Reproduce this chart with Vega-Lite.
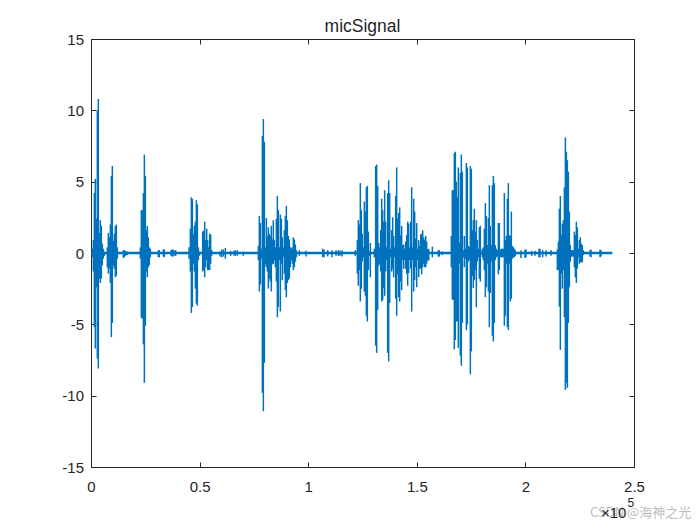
{
  "$schema": "https://vega.github.io/schema/vega-lite/v6.json",
  "description": "micSignal waveform, drawn as min/max columns over a quiet baseline.",
  "width": 543,
  "height": 428,
  "autosize": "none",
  "padding": {"left": 91, "top": 39, "right": 66, "bottom": 58},
  "background": "#ffffff",
  "title": {"text": "micSignal", "font": "Liberation Sans", "fontSize": 17.5, "fontWeight": "normal", "color": "#262626", "offset": -3, "anchor": "middle"},
  "datasets": {
    "baseline": [{"x": 0, "y": 0}, {"x": 240000, "y": 0}],
    "notes": [
      {"x": 229742, "y": -18.2, "label": "CSDN @海神之光", "kind": "mark"},
      {"x": 246500, "y": -18.2, "label": "×10", "kind": "exp"},
      {"x": 247000, "y": -17.5, "label": "5", "kind": "pow"}
    ],
    "columns": [
      {"x":614,"lo":-0.3,"hi":0.3},{"x":1075,"lo":-1.3,"hi":0.9},{"x":1535,"lo":-5.2,"hi":4.2},{"x":1996,"lo":-6.7,"hi":5.2},{"x":2456,"lo":-2.4,"hi":2.4},{"x":2917,"lo":-7.4,"hi":10.0},{"x":3377,"lo":-8.1,"hi":10.8},{"x":3838,"lo":-1.8,"hi":1.4},{"x":4298,"lo":-2.1,"hi":2.3},{"x":4759,"lo":-1.8,"hi":1.9},{"x":5219,"lo":-0.85,"hi":0.65},{"x":5680,"lo":-0.4,"hi":0.3},{"x":6140,"lo":-0.2,"hi":0.1},
      {"x":7522,"lo":-1.0,"hi":0.4},{"x":7982,"lo":-1.45,"hi":1.4},{"x":8443,"lo":-1.1,"hi":1.1},{"x":8903,"lo":-2.1,"hi":2.0},{"x":9364,"lo":-5.9,"hi":5.4},{"x":9824,"lo":-4.9,"hi":6.1},{"x":10285,"lo":-0.9,"hi":0.85},{"x":10745,"lo":-1.1,"hi":1.35},{"x":11206,"lo":-1.7,"hi":1.9},{"x":11666,"lo":-1.6,"hi":2.0},{"x":12127,"lo":-0.4,"hi":0.4},
      {"x":14890,"lo":-0.35,"hi":0.2},{"x":15350,"lo":-0.3,"hi":0.2},{"x":15811,"lo":-0.2,"hi":0.15},{"x":16271,"lo":-0.15,"hi":0.1},{"x":16732,"lo":-0.15,"hi":0.1},
      {"x":22718,"lo":-0.4,"hi":0.4},{"x":23178,"lo":-4.55,"hi":3.0},{"x":23639,"lo":-4.6,"hi":3.0},{"x":24100,"lo":-6.4,"hi":4.2},{"x":24560,"lo":-9.1,"hi":6.9},{"x":25021,"lo":-5.1,"hi":5.4},{"x":25481,"lo":-1.3,"hi":1.6},{"x":25942,"lo":-1.7,"hi":1.9},{"x":26402,"lo":-1.0,"hi":1.1},{"x":26863,"lo":-0.85,"hi":0.4},{"x":27320,"lo":-0.3,"hi":0.3},
      {"x":31007,"lo":-0.3,"hi":0.2},{"x":31467,"lo":-0.3,"hi":0.2},{"x":33310,"lo":-0.25,"hi":0.25},{"x":33770,"lo":-0.3,"hi":0.25},{"x":36840,"lo":-0.2,"hi":0.2},{"x":37300,"lo":-0.25,"hi":0.25},{"x":37760,"lo":-0.25,"hi":0.25},{"x":38220,"lo":-0.2,"hi":0.2},{"x":38990,"lo":-0.2,"hi":0.2},
      {"x":45130,"lo":-0.4,"hi":0.4},{"x":45740,"lo":-1.3,"hi":1.7},{"x":46200,"lo":-4.2,"hi":3.9},{"x":46660,"lo":-3.8,"hi":3.8},{"x":47130,"lo":-0.75,"hi":1.3},{"x":47590,"lo":-1.3,"hi":1.9},{"x":48050,"lo":-2.5,"hi":2.2},{"x":48510,"lo":-3.55,"hi":3.7},{"x":48970,"lo":-3.7,"hi":3.4},{"x":49430,"lo":-0.5,"hi":0.4},{"x":49890,"lo":-0.2,"hi":0.1},
      {"x":51420,"lo":-1.3,"hi":1.5},{"x":51880,"lo":-1.2,"hi":1.55},{"x":52340,"lo":-1.7,"hi":2.2},{"x":52800,"lo":-1.0,"hi":0.9},{"x":53260,"lo":-0.5,"hi":1.7},{"x":53720,"lo":-1.2,"hi":0.9},{"x":54180,"lo":-1.2,"hi":0.4},{"x":54640,"lo":-1.2,"hi":1.35},{"x":55100,"lo":-0.75,"hi":1.3},{"x":55570,"lo":-0.2,"hi":0.2},
      {"x":59390,"lo":-0.25,"hi":0.1},{"x":60160,"lo":-0.3,"hi":0.25},{"x":60930,"lo":-0.25,"hi":0.25},{"x":61850,"lo":-0.4,"hi":0.35},{"x":64300,"lo":-0.2,"hi":0.15},{"x":65840,"lo":-0.2,"hi":0.15},{"x":66450,"lo":-0.2,"hi":0.2},{"x":67370,"lo":-0.2,"hi":0.2},{"x":70140,"lo":-0.2,"hi":0.1},
      {"x":77050,"lo":-0.5,"hi":0.5},{"x":77510,"lo":-2.7,"hi":2.6},{"x":77970,"lo":-2.2,"hi":2.1},{"x":78430,"lo":-0.4,"hi":0.3},{"x":78890,"lo":-9.8,"hi":8.2},{"x":79350,"lo":-11.1,"hi":9.4},{"x":79810,"lo":-7.7,"hi":7.8},{"x":80270,"lo":-0.8,"hi":0.4},{"x":80730,"lo":-1.0,"hi":2.45},{"x":81190,"lo":-1.3,"hi":1.2},{"x":81650,"lo":-2.5,"hi":1.8},{"x":82110,"lo":-1.8,"hi":1.35},{"x":82570,"lo":-2.0,"hi":1.2},{"x":83030,"lo":-2.7,"hi":1.9},{"x":83490,"lo":-0.8,"hi":0.95},{"x":83950,"lo":-0.75,"hi":2.3},{"x":84420,"lo":-0.5,"hi":0.9},{"x":84880,"lo":-1.0,"hi":0.4},{"x":85340,"lo":-2.0,"hi":2.4},{"x":85800,"lo":-4.5,"hi":4.0},{"x":86260,"lo":-3.8,"hi":3.0},{"x":86720,"lo":-0.5,"hi":0.4},{"x":87180,"lo":-4.1,"hi":2.7},{"x":87640,"lo":-0.75,"hi":2.4},{"x":88100,"lo":-1.9,"hi":1.1},{"x":88560,"lo":-0.3,"hi":0.4},{"x":89020,"lo":-1.45,"hi":1.6},{"x":89480,"lo":-2.6,"hi":2.6},{"x":89940,"lo":-3.1,"hi":3.3},{"x":90400,"lo":-2.1,"hi":2.3},{"x":90860,"lo":-1.9,"hi":1.2},{"x":91320,"lo":-1.8,"hi":0.95},{"x":91780,"lo":-1.0,"hi":0.4},{"x":92240,"lo":-0.5,"hi":0.3},{"x":92700,"lo":-0.75,"hi":0.4},{"x":93160,"lo":-1.2,"hi":1.1},{"x":93630,"lo":-1.0,"hi":0.95},{"x":94090,"lo":-0.6,"hi":0.6},{"x":94550,"lo":-0.3,"hi":0.2},
      {"x":95920,"lo":-0.2,"hi":0.2},{"x":98990,"lo":-0.25,"hi":0.15},{"x":106670,"lo":-0.3,"hi":0.3},{"x":107290,"lo":-0.3,"hi":0.25},{"x":108970,"lo":-0.25,"hi":0.2},{"x":110970,"lo":-0.3,"hi":0.2},{"x":112810,"lo":-0.2,"hi":0.2},{"x":113890,"lo":-0.2,"hi":0.2},{"x":114640,"lo":-0.2,"hi":0.15},{"x":115560,"lo":-0.25,"hi":0.2},{"x":121700,"lo":-0.2,"hi":0.2},
      {"x":122620,"lo":-1.45,"hi":0.9},{"x":123080,"lo":-2.3,"hi":2.3},{"x":123540,"lo":-1.2,"hi":2.0},{"x":124000,"lo":-3.4,"hi":4.9},{"x":124460,"lo":-2.5,"hi":3.0},{"x":124920,"lo":-0.6,"hi":1.35},{"x":125390,"lo":-0.3,"hi":0.4},{"x":125850,"lo":-2.7,"hi":3.6},{"x":126310,"lo":-3.0,"hi":2.9},{"x":126770,"lo":-4.4,"hi":4.6},{"x":127230,"lo":-4.8,"hi":4.7},{"x":127690,"lo":-1.2,"hi":1.5},{"x":128150,"lo":-0.2,"hi":0.1},{"x":128610,"lo":-1.7,"hi":0.7},
      {"x":130450,"lo":-0.3,"hi":0.3},{"x":131060,"lo":-6.5,"hi":6.1},{"x":131530,"lo":-7.0,"hi":6.2},{"x":131990,"lo":-4.0,"hi":4.7},{"x":132450,"lo":-0.9,"hi":0.7},{"x":132910,"lo":-0.75,"hi":0.4},{"x":133370,"lo":-1.3,"hi":1.6},{"x":133830,"lo":-3.4,"hi":3.8},{"x":134290,"lo":-3.3,"hi":3.0},{"x":134750,"lo":-2.45,"hi":2.2},{"x":135210,"lo":-3.0,"hi":4.4},{"x":135670,"lo":-1.3,"hi":2.2},{"x":136130,"lo":-0.5,"hi":0.4},{"x":136590,"lo":-7.0,"hi":4.2},{"x":137050,"lo":-7.6,"hi":5.1},{"x":137510,"lo":-3.5,"hi":4.2},{"x":137970,"lo":-0.3,"hi":0.3},{"x":138430,"lo":-1.3,"hi":1.6},{"x":138890,"lo":-1.1,"hi":2.5},{"x":139350,"lo":-1.7,"hi":1.2},{"x":139820,"lo":-0.3,"hi":0.4},{"x":140280,"lo":-3.2,"hi":4.0},{"x":140740,"lo":-4.4,"hi":6.0},{"x":141200,"lo":-1.5,"hi":2.4},{"x":141660,"lo":-3.1,"hi":2.8},{"x":142120,"lo":-3.4,"hi":3.2},{"x":142580,"lo":-2.0,"hi":1.25},{"x":143040,"lo":-2.6,"hi":1.9},{"x":143500,"lo":-0.5,"hi":0.55},{"x":143960,"lo":-1.1,"hi":0.6},{"x":144420,"lo":-0.5,"hi":0.3},{"x":144880,"lo":-1.1,"hi":0.8},{"x":145340,"lo":-1.45,"hi":1.25},{"x":145800,"lo":-2.3,"hi":2.2},{"x":146260,"lo":-1.4,"hi":2.05},{"x":146720,"lo":-0.5,"hi":0.4},{"x":147180,"lo":-1.1,"hi":2.2},{"x":147640,"lo":-4.1,"hi":4.6},{"x":148100,"lo":-0.5,"hi":0.4},{"x":148560,"lo":-2.7,"hi":3.8},{"x":149020,"lo":-1.9,"hi":2.9},{"x":149480,"lo":-1.0,"hi":1.0},{"x":149950,"lo":-2.4,"hi":2.1},{"x":150410,"lo":-0.5,"hi":0.3},{"x":150870,"lo":-1.7,"hi":0.9},{"x":151330,"lo":-1.1,"hi":0.5},{"x":151790,"lo":-1.1,"hi":1.3},{"x":152250,"lo":-1.5,"hi":1.35},{"x":152710,"lo":-1.0,"hi":1.6},{"x":153170,"lo":-0.75,"hi":1.1},{"x":153630,"lo":-1.0,"hi":0.9},{"x":154090,"lo":-1.0,"hi":1.2},{"x":154550,"lo":-0.75,"hi":0.8},{"x":155010,"lo":-0.5,"hi":0.25},{"x":155470,"lo":-0.55,"hi":0.3},
      {"x":157160,"lo":-0.3,"hi":0.45},{"x":159920,"lo":-0.25,"hi":0.2},{"x":160390,"lo":-0.25,"hi":0.2},{"x":161760,"lo":-0.15,"hi":0.1},
      {"x":165900,"lo":-1.0,"hi":1.2},{"x":166360,"lo":-3.25,"hi":4.4},{"x":166820,"lo":-3.3,"hi":4.4},{"x":167280,"lo":-6.75,"hi":7.0},{"x":167740,"lo":-6.1,"hi":7.1},{"x":168200,"lo":-4.8,"hi":5.0},{"x":168660,"lo":-4.8,"hi":3.9},{"x":169120,"lo":-6.65,"hi":6.0},{"x":169580,"lo":-0.75,"hi":0.75},{"x":170040,"lo":-7.2,"hi":5.6},{"x":170500,"lo":-7.9,"hi":6.9},{"x":170960,"lo":-4.9,"hi":5.7},{"x":171430,"lo":-0.3,"hi":0.2},{"x":171890,"lo":-1.0,"hi":1.2},{"x":172350,"lo":-0.4,"hi":0.3},{"x":172810,"lo":-5.4,"hi":6.3},{"x":173270,"lo":-5.0,"hi":6.0},{"x":173730,"lo":-0.6,"hi":0.5},{"x":174190,"lo":-0.5,"hi":0.4},{"x":174650,"lo":-8.5,"hi":6.1},{"x":175110,"lo":-6.9,"hi":5.9},{"x":175570,"lo":-1.6,"hi":1.6},{"x":176030,"lo":-2.45,"hi":2.3},{"x":176490,"lo":-1.9,"hi":3.1},{"x":176950,"lo":-1.2,"hi":1.5},{"x":177410,"lo":-3.8,"hi":2.3},{"x":177870,"lo":-0.6,"hi":0.9},{"x":178330,"lo":-0.3,"hi":0.3},{"x":178790,"lo":-1.8,"hi":1.8},{"x":179250,"lo":-2.0,"hi":1.9},{"x":179710,"lo":-0.1,"hi":0.1},{"x":180170,"lo":-0.3,"hi":0.3},{"x":180640,"lo":-0.5,"hi":0.4},{"x":181100,"lo":-1.2,"hi":1.7},{"x":181560,"lo":-3.1,"hi":3.5},{"x":182020,"lo":-2.4,"hi":2.6},{"x":182480,"lo":-0.75,"hi":0.55},{"x":182940,"lo":-2.7,"hi":2.45},{"x":183400,"lo":-5.2,"hi":4.75},{"x":183860,"lo":-2.8,"hi":1.9},{"x":184320,"lo":-0.6,"hi":0.55},{"x":184780,"lo":-5.8,"hi":4.75},{"x":185240,"lo":-6.2,"hi":5.4},{"x":185700,"lo":-4.9,"hi":4.9},{"x":186160,"lo":-0.5,"hi":0.55},{"x":186620,"lo":-0.3,"hi":0.3},{"x":187080,"lo":-0.25,"hi":0.2},{"x":187540,"lo":-1.5,"hi":2.1},{"x":188000,"lo":-1.2,"hi":2.1},{"x":188460,"lo":-0.3,"hi":0.25},{"x":188920,"lo":-0.3,"hi":0.3},{"x":189380,"lo":-0.3,"hi":0.3},{"x":189840,"lo":-0.3,"hi":0.3},{"x":190310,"lo":-5.1,"hi":4.2},{"x":190770,"lo":-4.4,"hi":0.9},{"x":191230,"lo":-0.75,"hi":1.2},{"x":191690,"lo":-5.2,"hi":3.8},{"x":192150,"lo":-5.4,"hi":4.9},{"x":192610,"lo":-0.75,"hi":1.25},{"x":193070,"lo":-3.4,"hi":1.2},{"x":193530,"lo":-3.2,"hi":2.9},{"x":193990,"lo":-0.4,"hi":0.5},{"x":194450,"lo":-0.3,"hi":0.4},{"x":194910,"lo":-0.3,"hi":0.3},{"x":195370,"lo":-0.2,"hi":0.2},
      {"x":197980,"lo":-0.35,"hi":0.2},{"x":199820,"lo":-0.35,"hi":0.25},{"x":200280,"lo":-0.3,"hi":0.25},{"x":202890,"lo":-0.2,"hi":0.15},{"x":204430,"lo":-0.2,"hi":0.15},{"x":206270,"lo":-0.3,"hi":0.3},{"x":206730,"lo":-0.3,"hi":0.3},{"x":207960,"lo":-0.3,"hi":0.2},{"x":209490,"lo":-0.25,"hi":0.2},{"x":211800,"lo":-0.2,"hi":0.2},
      {"x":214710,"lo":-1.2,"hi":0.25},{"x":215170,"lo":-1.2,"hi":0.8},{"x":215630,"lo":-3.75,"hi":3.1},{"x":216090,"lo":-6.8,"hi":4.0},{"x":216550,"lo":-1.45,"hi":1.25},{"x":217010,"lo":-2.5,"hi":2.05},{"x":217470,"lo":-1.2,"hi":2.3},{"x":217940,"lo":-4.5,"hi":4.6},{"x":218400,"lo":-9.6,"hi":8.1},{"x":218860,"lo":-9.1,"hi":7.1},{"x":219320,"lo":-9.45,"hi":6.5},{"x":219780,"lo":-4.9,"hi":5.7},{"x":220240,"lo":-2.4,"hi":2.9},{"x":220700,"lo":-0.6,"hi":0.55},{"x":221160,"lo":-0.25,"hi":0.2},{"x":221620,"lo":-0.25,"hi":0.2},{"x":222080,"lo":-0.25,"hi":0.2},{"x":222540,"lo":-1.0,"hi":1.5},{"x":223000,"lo":-1.7,"hi":1.25},{"x":223460,"lo":-2.1,"hi":2.2},{"x":223920,"lo":-1.1,"hi":1.8},{"x":224380,"lo":-0.3,"hi":0.3},{"x":224840,"lo":-0.75,"hi":0.9},{"x":225300,"lo":-0.65,"hi":1.1},{"x":225760,"lo":-0.65,"hi":0.65},{"x":226220,"lo":-0.65,"hi":0.55},{"x":226680,"lo":-0.15,"hi":0.2},
      {"x":229750,"lo":-0.25,"hi":0.2},{"x":230210,"lo":-0.3,"hi":0.25},{"x":234360,"lo":-0.3,"hi":0.25},{"x":234820,"lo":-0.25,"hi":0.2}
    ]
  },
  "resolve": {"axis": {"x": "independent", "y": "independent"}},
  "layer": [
    {
      "data": {"name": "columns"},
      "mark": {"type": "rule", "color": "#0072BD", "strokeWidth": 1.5},
      "encoding": {
        "x": {
          "field": "x",
          "type": "quantitative",
          "title": null,
          "scale": {"domain": [0, 250000], "nice": false},
          "axis": {"orient": "bottom", "values": [0, 50000, 100000, 150000, 200000, 250000], "labelExpr": "'' + datum.value / 100000", "grid": false, "tickSize": -5, "labelPadding": 17, "labelFlush": false, "labelOverlap": false}
        },
        "y": {
          "field": "lo",
          "type": "quantitative",
          "title": null,
          "scale": {"domain": [-15, 15], "nice": false},
          "axis": {"orient": "left", "values": [-15, -10, -5, 0, 5, 10, 15], "labelExpr": "'' + datum.value", "grid": false, "tickSize": -5, "labelPadding": 12.5, "labelFlush": false, "labelOverlap": false}
        },
        "y2": {"field": "hi"}
      }
    },
    {
      "data": {"name": "baseline"},
      "mark": {"type": "line", "color": "#0072BD", "strokeWidth": 2.7},
      "encoding": {
        "x": {
          "field": "x",
          "type": "quantitative",
          "title": null,
          "scale": {"domain": [0, 250000], "nice": false},
          "axis": {"orient": "top", "values": [0, 50000, 100000, 150000, 200000, 250000], "labels": false, "grid": false, "tickSize": -5}
        },
        "y": {
          "field": "y",
          "type": "quantitative",
          "title": null,
          "scale": {"domain": [-15, 15], "nice": false},
          "axis": {"orient": "right", "values": [-15, -10, -5, 0, 5, 10, 15], "labels": false, "grid": false, "tickSize": -5}
        }
      }
    },
    {
      "data": {"name": "notes"},
      "transform": [{"filter": "datum.kind == 'mark'"}],
      "mark": {"type": "text", "align": "left", "baseline": "middle", "font": "Noto Sans CJK SC", "fontSize": 13, "color": "#bdbdbd", "clip": false},
      "encoding": {
        "x": {"field": "x", "type": "quantitative", "scale": {"domain": [0, 250000], "nice": false}, "axis": null},
        "y": {"field": "y", "type": "quantitative", "scale": {"domain": [-15, 15], "nice": false}, "axis": null},
        "text": {"field": "label"}
      }
    },
    {
      "data": {"name": "notes"},
      "transform": [{"filter": "datum.kind == 'exp'"}],
      "mark": {"type": "text", "align": "right", "baseline": "middle", "font": "Liberation Sans", "fontSize": 15, "color": "#262626", "clip": false},
      "encoding": {
        "x": {"field": "x", "type": "quantitative", "scale": {"domain": [0, 250000], "nice": false}, "axis": null},
        "y": {"field": "y", "type": "quantitative", "scale": {"domain": [-15, 15], "nice": false}, "axis": null},
        "text": {"field": "label"}
      }
    },
    {
      "data": {"name": "notes"},
      "transform": [{"filter": "datum.kind == 'pow'"}],
      "mark": {"type": "text", "align": "left", "baseline": "middle", "font": "Liberation Sans", "fontSize": 12, "color": "#262626", "clip": false},
      "encoding": {
        "x": {"field": "x", "type": "quantitative", "scale": {"domain": [0, 250000], "nice": false}, "axis": null},
        "y": {"field": "y", "type": "quantitative", "scale": {"domain": [-15, 15], "nice": false}, "axis": null},
        "text": {"field": "label"}
      }
    }
  ],
  "config": {
    "view": {"stroke": null},
    "axis": {"domainColor": "#262626", "tickColor": "#262626", "labelColor": "#262626", "labelFont": "Liberation Sans", "labelFontSize": 15, "domainWidth": 1, "tickWidth": 1}
  }
}
